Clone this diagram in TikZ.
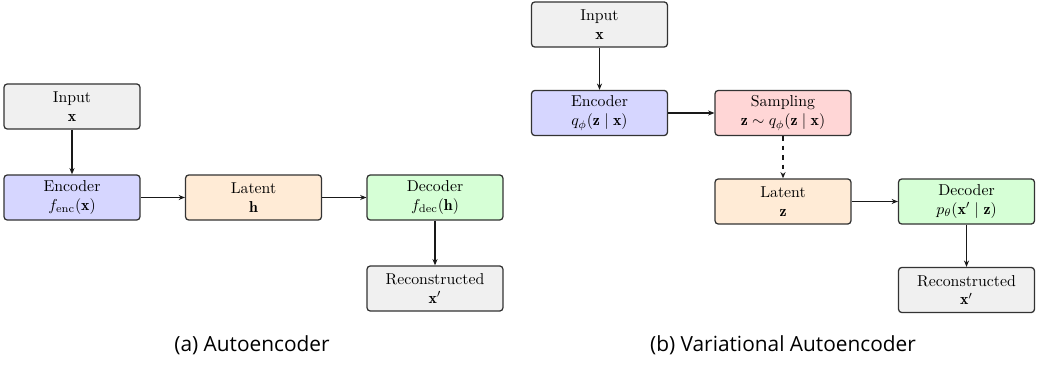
\documentclass[tikz,border=0pt]{standalone}
\usepackage{fontspec}
\usepackage{amsmath,amssymb}
\newfontfamily\capfont{Open Sans}
\usetikzlibrary{arrows.meta}
\begin{document}
\begin{tikzpicture}[x=0.633pt,y=-0.633pt,
  box/.style={draw=black!80, thick, rounded corners=2pt, align=center,
    minimum width=86pt, minimum height=28.5pt, inner sep=1pt, text=black},
  gbox/.style={box, fill=black!6},
  bbox/.style={box, fill=blue!16},
  obox/.style={box, fill=orange!16},
  grbox/.style={box, fill=green!16},
  rbox/.style={box, fill=red!16},
  arr/.style={-{Stealth[length=4pt,width=3.2pt]}, line width=0.65pt, black!90},
  captxt/.style={font=\capfont\fontsize{13.2}{15}\selectfont, inner sep=0pt}]
\useasboundingbox (0,0) rectangle (1046,368);
% (a) Autoencoder
\node[gbox] (ain) at (72,106.5) {Input\\ $\mathbf{x}$};
\node[bbox] (aenc) at (72,197.5) {Encoder\\ $f_{\text{enc}}(\mathbf{x})$};
\node[obox] (alat) at (253.5,197.5) {Latent\\ $\mathbf{h}$};
\node[grbox] (adec) at (435,197.5) {Decoder\\ $f_{\text{dec}}(\mathbf{h})$};
\node[gbox] (arec) at (435,288.5) {Reconstructed\\ $\mathbf{x}'$};
\draw[arr] (ain) -- (aenc);
\draw[arr] (aenc) -- (alat);
\draw[arr] (alat) -- (adec);
\draw[arr] (adec) -- (arec);
\node[captxt] (capa) at (252,345) {(a) Autoencoder};
% (b) Variational Autoencoder
\node[gbox] (bin) at (599.5,24.5) {Input\\ $\mathbf{x}$};
\node[bbox] (benc) at (599.5,113) {Encoder\\ $q_\phi(\mathbf{z}\mid\mathbf{x})$};
\node[rbox] (bsam) at (783,113) {Sampling\\ $\mathbf{z}\sim q_\phi(\mathbf{z}\mid\mathbf{x})$};
\node[obox] (blat) at (783,201.5) {Latent\\ $\mathbf{z}$};
\node[grbox] (bdec) at (966.5,201.5) {Decoder\\ $p_\theta(\mathbf{x}'\mid\mathbf{z})$};
\node[gbox] (brec) at (966.5,290) {Reconstructed\\ $\mathbf{x}'$};
\draw[arr] (bin) -- (benc);
\draw[arr] (benc) -- (bsam);
\draw[arr, dashed] (bsam) -- (blat);
\draw[arr] (blat) -- (bdec);
\draw[arr] (bdec) -- (brec);
\node[captxt] (capb) at (783,345) {(b) Variational Autoencoder};
\end{tikzpicture}
\end{document}
